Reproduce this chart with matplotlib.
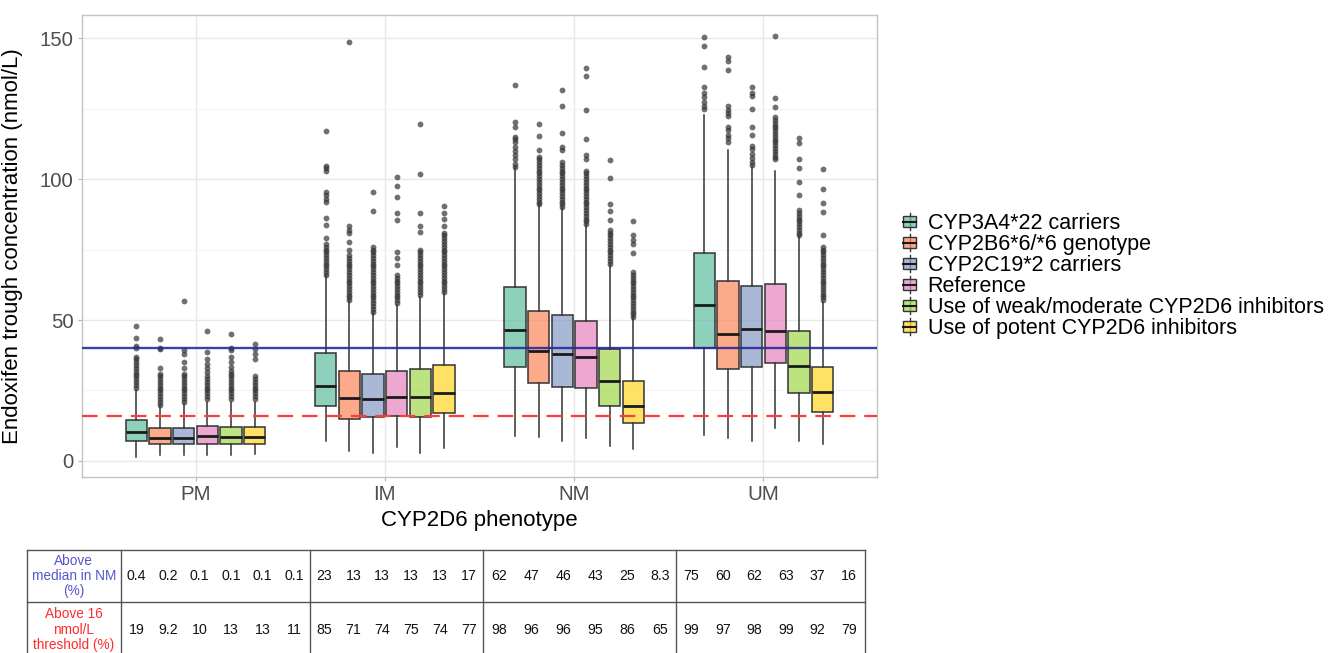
import matplotlib
matplotlib.use("Agg")
import matplotlib.pyplot as plt
from matplotlib.colors import to_rgba
from matplotlib.legend_handler import HandlerBase
from matplotlib.patches import Patch, Rectangle
from matplotlib.lines import Line2D

plt.rcParams['font.family'] = ['Liberation Sans', 'DejaVu Sans']

phenotypes = ["PM", "IM", "NM", "UM"]
subgroups = ["CYP3A4*22 carriers", "CYP2B6*6/*6 genotype", "CYP2C19*2 carriers",
             "Reference", "Use of weak/moderate CYP2D6 inhibitors",
             "Use of potent CYP2D6 inhibitors"]
colors = ["#66C2A5", "#FC8D62", "#8DA0CB", "#E78AC3", "#A6D854", "#FFD92F"]

# box statistics, one row per phenotype, one column per subgroup (nmol/L)
q1 = [[7.1, 5.9, 5.9, 5.9, 5.9, 5.9],
      [19.5, 15.0, 15.7, 16.0, 15.7, 16.9],
      [33.5, 27.8, 26.4, 25.8, 19.6, 13.4],
      [40.1, 32.6, 33.5, 34.7, 24.0, 17.5]]
medians = [[10.2, 8.3, 8.3, 8.9, 8.5, 8.6],
           [26.6, 22.4, 21.9, 22.8, 22.8, 24.0],
           [46.4, 38.9, 38.0, 36.8, 28.3, 19.5],
           [55.3, 45.1, 46.9, 46.1, 33.7, 24.4]]
q3 = [[14.7, 11.6, 11.6, 12.3, 12.2, 12.2],
      [38.2, 32.0, 30.8, 31.9, 32.6, 34.1],
      [61.6, 53.2, 51.8, 49.7, 39.6, 28.4],
      [73.9, 63.9, 61.9, 62.7, 46.2, 33.2]]
whis_lo = [[1.5, 2.1, 2.1, 2.1, 2.1, 2.5],
           [7.2, 3.7, 2.7, 5.1, 2.9, 4.5],
           [8.9, 8.4, 7.2, 8.0, 5.3, 4.4],
           [9.2, 8.3, 6.9, 11.6, 7.2, 6.0]]
whis_hi = [[25.2, 19.6, 20.2, 21.0, 21.0, 21.0],
           [66.0, 57.1, 53.0, 55.4, 58.3, 59.7],
           [103.9, 90.8, 89.7, 83.7, 69.6, 50.9],
           [122.8, 110.4, 104.4, 102.9, 79.6, 56.5]]

fliers_pm = [
    [26, 27, 28, 29, 30, 31, 32, 33, 34, 35, 36, 37, 40.2, 40.9, 43.5, 48.0],
    [20, 21, 22, 23, 24, 25, 26, 27, 28, 29, 30, 31, 32.8, 39.7, 40.2, 43.3],
    [21, 22, 23, 24, 25, 26, 27, 28, 29, 30, 31, 32.9, 35.0, 37.9, 39.4, 56.8],
    [22, 23, 24, 25, 26, 27, 28, 29, 30, 31.5, 32.9, 34.5, 36.1, 38.6, 46.2],
    [22, 23, 24, 25, 26, 27, 28, 29, 30, 31, 32, 33.5, 35.2, 37.0, 39.4, 40.0, 45.0],
    [22, 23, 24, 25, 26, 27, 28, 29, 30, 36.2, 38.0, 39.7, 41.4],
]
fliers_im = [
    [66, 67, 68, 69, 70, 71, 72, 73, 74, 75, 76, 77, 79.2, 83.7, 86.1, 91.8, 93.0,
     94.2, 95.3, 102.7, 103.9, 104.8, 116.9],
    [57, 58, 59, 60, 61, 62, 63, 64, 65, 66, 67, 68, 69, 70, 71, 72, 73, 74.9, 77.8,
     80.8, 82.0, 83.5, 148.6],
    [53, 54, 55, 56, 57, 58, 59, 60, 61, 62, 63, 64, 65, 66, 67, 68, 69, 70, 71, 72,
     73, 74, 75, 76, 88.5, 95.3],
    [56, 57, 58, 59, 60, 61, 62, 63, 64, 65, 66, 69.6, 71.9, 74.3, 85.5, 87.9, 93.8,
     97.7, 100.7],
    [59, 60, 61, 62, 63, 64, 65, 66, 67, 68, 69, 70, 71, 72, 73, 74, 75, 81.2, 83.5,
     87.9, 101.7, 119.5],
    [60, 61, 62, 63, 64, 65, 66, 67, 68, 69, 70, 71, 72, 73, 74, 75, 76, 77, 78, 79,
     80, 81, 83.5, 85.9, 87.9, 90.6],
]
fliers_nm = [
    [104.4, 105.5, 107.0, 108.5, 110.0, 111.5, 113.0, 114.3, 115.1, 118.6, 120.4, 133.2],
    [91, 92, 93, 94, 95, 96, 97, 98, 99, 100, 101, 102, 103, 104, 105, 106, 107, 108,
     110.4, 115.4, 119.5],
    [90, 91, 92, 93, 94, 95, 96, 97, 98, 99, 100, 101, 102, 103, 104, 105, 106, 110.4,
     111.5, 116.3, 126.1, 131.5],
    [84, 85, 86, 87, 88, 89, 90, 91, 92, 93, 94, 95, 96, 97, 98, 99, 100, 101, 102,
     103, 107.2, 108.5, 114.3, 124.6, 136.6, 139.4],
    [70, 71, 72, 73, 74, 75, 76, 77, 78, 79, 80, 81, 82, 85.5, 88.7, 91.2, 100.5, 106.8],
    [51, 52, 53, 54, 55, 56, 57, 58, 59, 60, 61, 62, 63, 64, 65, 66, 67, 73.9, 77.0,
     78.5, 80.2, 85.3],
]
fliers_um = [
    [125.0, 126.0, 127.5, 129.0, 130.5, 132.8, 139.9, 147.3, 150.4],
    [113.3, 114.5, 115.7, 117.5, 118.6, 122.2, 123.4, 124.6, 125.8, 138.8, 141.8, 143.3],
    [105, 106, 107.5, 109, 110.5, 111.6, 115.7, 118.6, 124.8, 129.3, 130.5, 132.6],
    [107, 108, 109, 110, 111, 112, 113, 114, 115, 116, 117, 118, 119, 120, 121, 122,
     125.7, 128.9, 150.6],
    [80, 81, 82, 83, 84, 85, 86, 87, 88, 89, 94.4, 99.1, 103.9, 107.1, 112.8, 114.5],
    [57, 58, 59, 60, 61, 62, 63, 64, 65, 66, 67, 68, 69, 70, 71, 72, 73, 74, 75, 76,
     80.0, 88.2, 91.4, 96.5, 103.6],
]
fliers = [fliers_pm, fliers_im, fliers_nm, fliers_um]

nm_median = 40
threshold = 16

# percentages shown under the plot
above_median_nm = [[0.4, 0.2, 0.1, 0.1, 0.1, 0.1],
                   [23, 13, 13, 13, 13, 17],
                   [62, 47, 46, 43, 25, 8.3],
                   [75, 60, 62, 63, 37, 16]]
above_threshold = [[19, 9.2, 10, 13, 13, 11],
                   [85, 71, 74, 75, 74, 77],
                   [98, 96, 96, 95, 86, 65],
                   [99, 97, 98, 99, 92, 79]]
row_labels = ["Above\nmedian in NM\n(%)", "Above 16\nnmol/L\nthreshold (%)"]
row_colors = ["#5555cc", "#ff2a2a"]


class BoxKey(HandlerBase):
    def create_artists(self, legend, orig_handle, xdescent, ydescent,
                       width, height, fontsize, trans):
        x0, y0 = -xdescent, -ydescent
        cx = x0 + width / 2
        whisk = Line2D([cx, cx], [y0 - 0.2 * height, y0 + 1.2 * height],
                       color="#333333", lw=1.0, transform=trans)
        box = Rectangle((x0 + 0.1 * width, y0 + 0.05 * height), 0.8 * width, 0.9 * height,
                        facecolor=orig_handle.get_facecolor(), edgecolor="#333333",
                        lw=1.0, transform=trans)
        med = Line2D([x0 + 0.1 * width, x0 + 0.9 * width], [y0 + height / 2] * 2,
                     color="#1a1a1a", lw=1.5, transform=trans)
        return [whisk, box, med]


fig = plt.figure(figsize=(13.31, 6.53), dpi=100)
ax = fig.add_axes([0.0616, 0.2695, 0.5973, 0.7075])

slot = 0.75 / len(subgroups)
stats, positions, fills = [], [], []
for i in range(len(phenotypes)):
    for j in range(len(subgroups)):
        stats.append(dict(med=medians[i][j], q1=q1[i][j], q3=q3[i][j],
                          whislo=whis_lo[i][j], whishi=whis_hi[i][j],
                          fliers=fliers[i][j]))
        positions.append(i + 1 + (j - 2.5) * slot)
        fills.append(to_rgba(colors[j], 0.74))

bp = ax.bxp(stats, positions=positions, widths=slot * 0.9, patch_artist=True,
            showcaps=False, manage_ticks=False,
            boxprops=dict(edgecolor="#333333", linewidth=1.1),
            medianprops=dict(color="#1a1a1a", linewidth=2.0),
            whiskerprops=dict(color="#333333", linewidth=1.1),
            flierprops=dict(marker="o", markersize=4.2, markerfacecolor="#333333",
                            markeredgecolor="none", alpha=0.7))
for patch, c in zip(bp["boxes"], fills):
    patch.set_facecolor(c)

ax.axhline(nm_median, color="#2a2a9c", lw=1.7, alpha=0.9, zorder=5)
ax.axhline(threshold, color="#ff3b3b", lw=1.6, dashes=(7, 4), zorder=5)

ax.set_xlim(0.4, 4.6)
ax.set_ylim(-5.7, 158.2)
ax.set_xticks(range(1, len(phenotypes) + 1))
ax.set_xticklabels(phenotypes)
ax.set_yticks([0, 50, 100, 150])
ax.set_yticks([25, 75, 125], minor=True)
ax.grid(True, which="major", color="#e8e8e8", lw=1.0)
ax.grid(True, which="minor", axis="y", color="#f3f3f3", lw=0.8)
ax.set_axisbelow(True)
for s in ax.spines.values():
    s.set_color("#c4c4c4")
    s.set_linewidth(1.0)
ax.tick_params(axis="both", which="major", length=3, color="#b3b3b3",
               labelsize=14.7, labelcolor="#4d4d4d", pad=3)
ax.tick_params(axis="y", which="minor", length=0)

ax.set_ylabel("Endoxifen trough concentration (nmol/L)", fontsize=16)
ax.yaxis.set_label_coords(-0.074, 0.5)
ax.set_xlabel("CYP2D6 phenotype", fontsize=16)
ax.xaxis.set_label_coords(0.5, -0.072)

handles = [Patch(facecolor=c) for c in fills[:len(subgroups)]]
fig.legend(handles, subgroups, handler_map={Patch: BoxKey()},
           loc="center left", bbox_to_anchor=(0.6695, 0.577), frameon=False,
           fontsize=15.5, handlelength=0.75, handleheight=0.5, handletextpad=0.45,
           labelspacing=0.0, borderpad=0)

# summary table beneath the plot, laid out in figure pixels
tab = fig.add_axes([0, 0, 1, 113 / 653])
tab.set_xlim(0, 1331)
tab.set_ylim(653, 540)
tab.axis("off")
table_left, header_right = 26.7, 120.7
group_edges = [120.7, 310, 483.3, 675.7, 865]
row_top, row_mid, row_bottom = 550, 602.3, 660
line_kw = dict(color="#555555", lw=1.0, clip_on=False)
tab.plot([table_left, group_edges[-1]], [row_top, row_top], **line_kw)
tab.plot([table_left, group_edges[-1]], [row_mid, row_mid], **line_kw)
for x in [table_left] + group_edges:
    tab.plot([x, x], [row_top, row_bottom], **line_kw)

row_centers = [576, 629.5]
for r, (label, values) in enumerate(zip(row_labels, [above_median_nm, above_threshold])):
    tab.text((table_left + header_right) / 2, row_centers[r], label, ha="center",
             va="center", fontsize=9.8, color=row_colors[r], linespacing=1.1)
    for g in range(len(phenotypes)):
        left, right = group_edges[g], group_edges[g + 1]
        step = (right - left) / len(subgroups)
        for j, v in enumerate(values[g]):
            tab.text(left + (j + 0.5) * step, row_centers[r], f"{v:g}", ha="center",
                     va="center", fontsize=10.2, color="#111111")

fig.savefig("out.png", dpi=100)
